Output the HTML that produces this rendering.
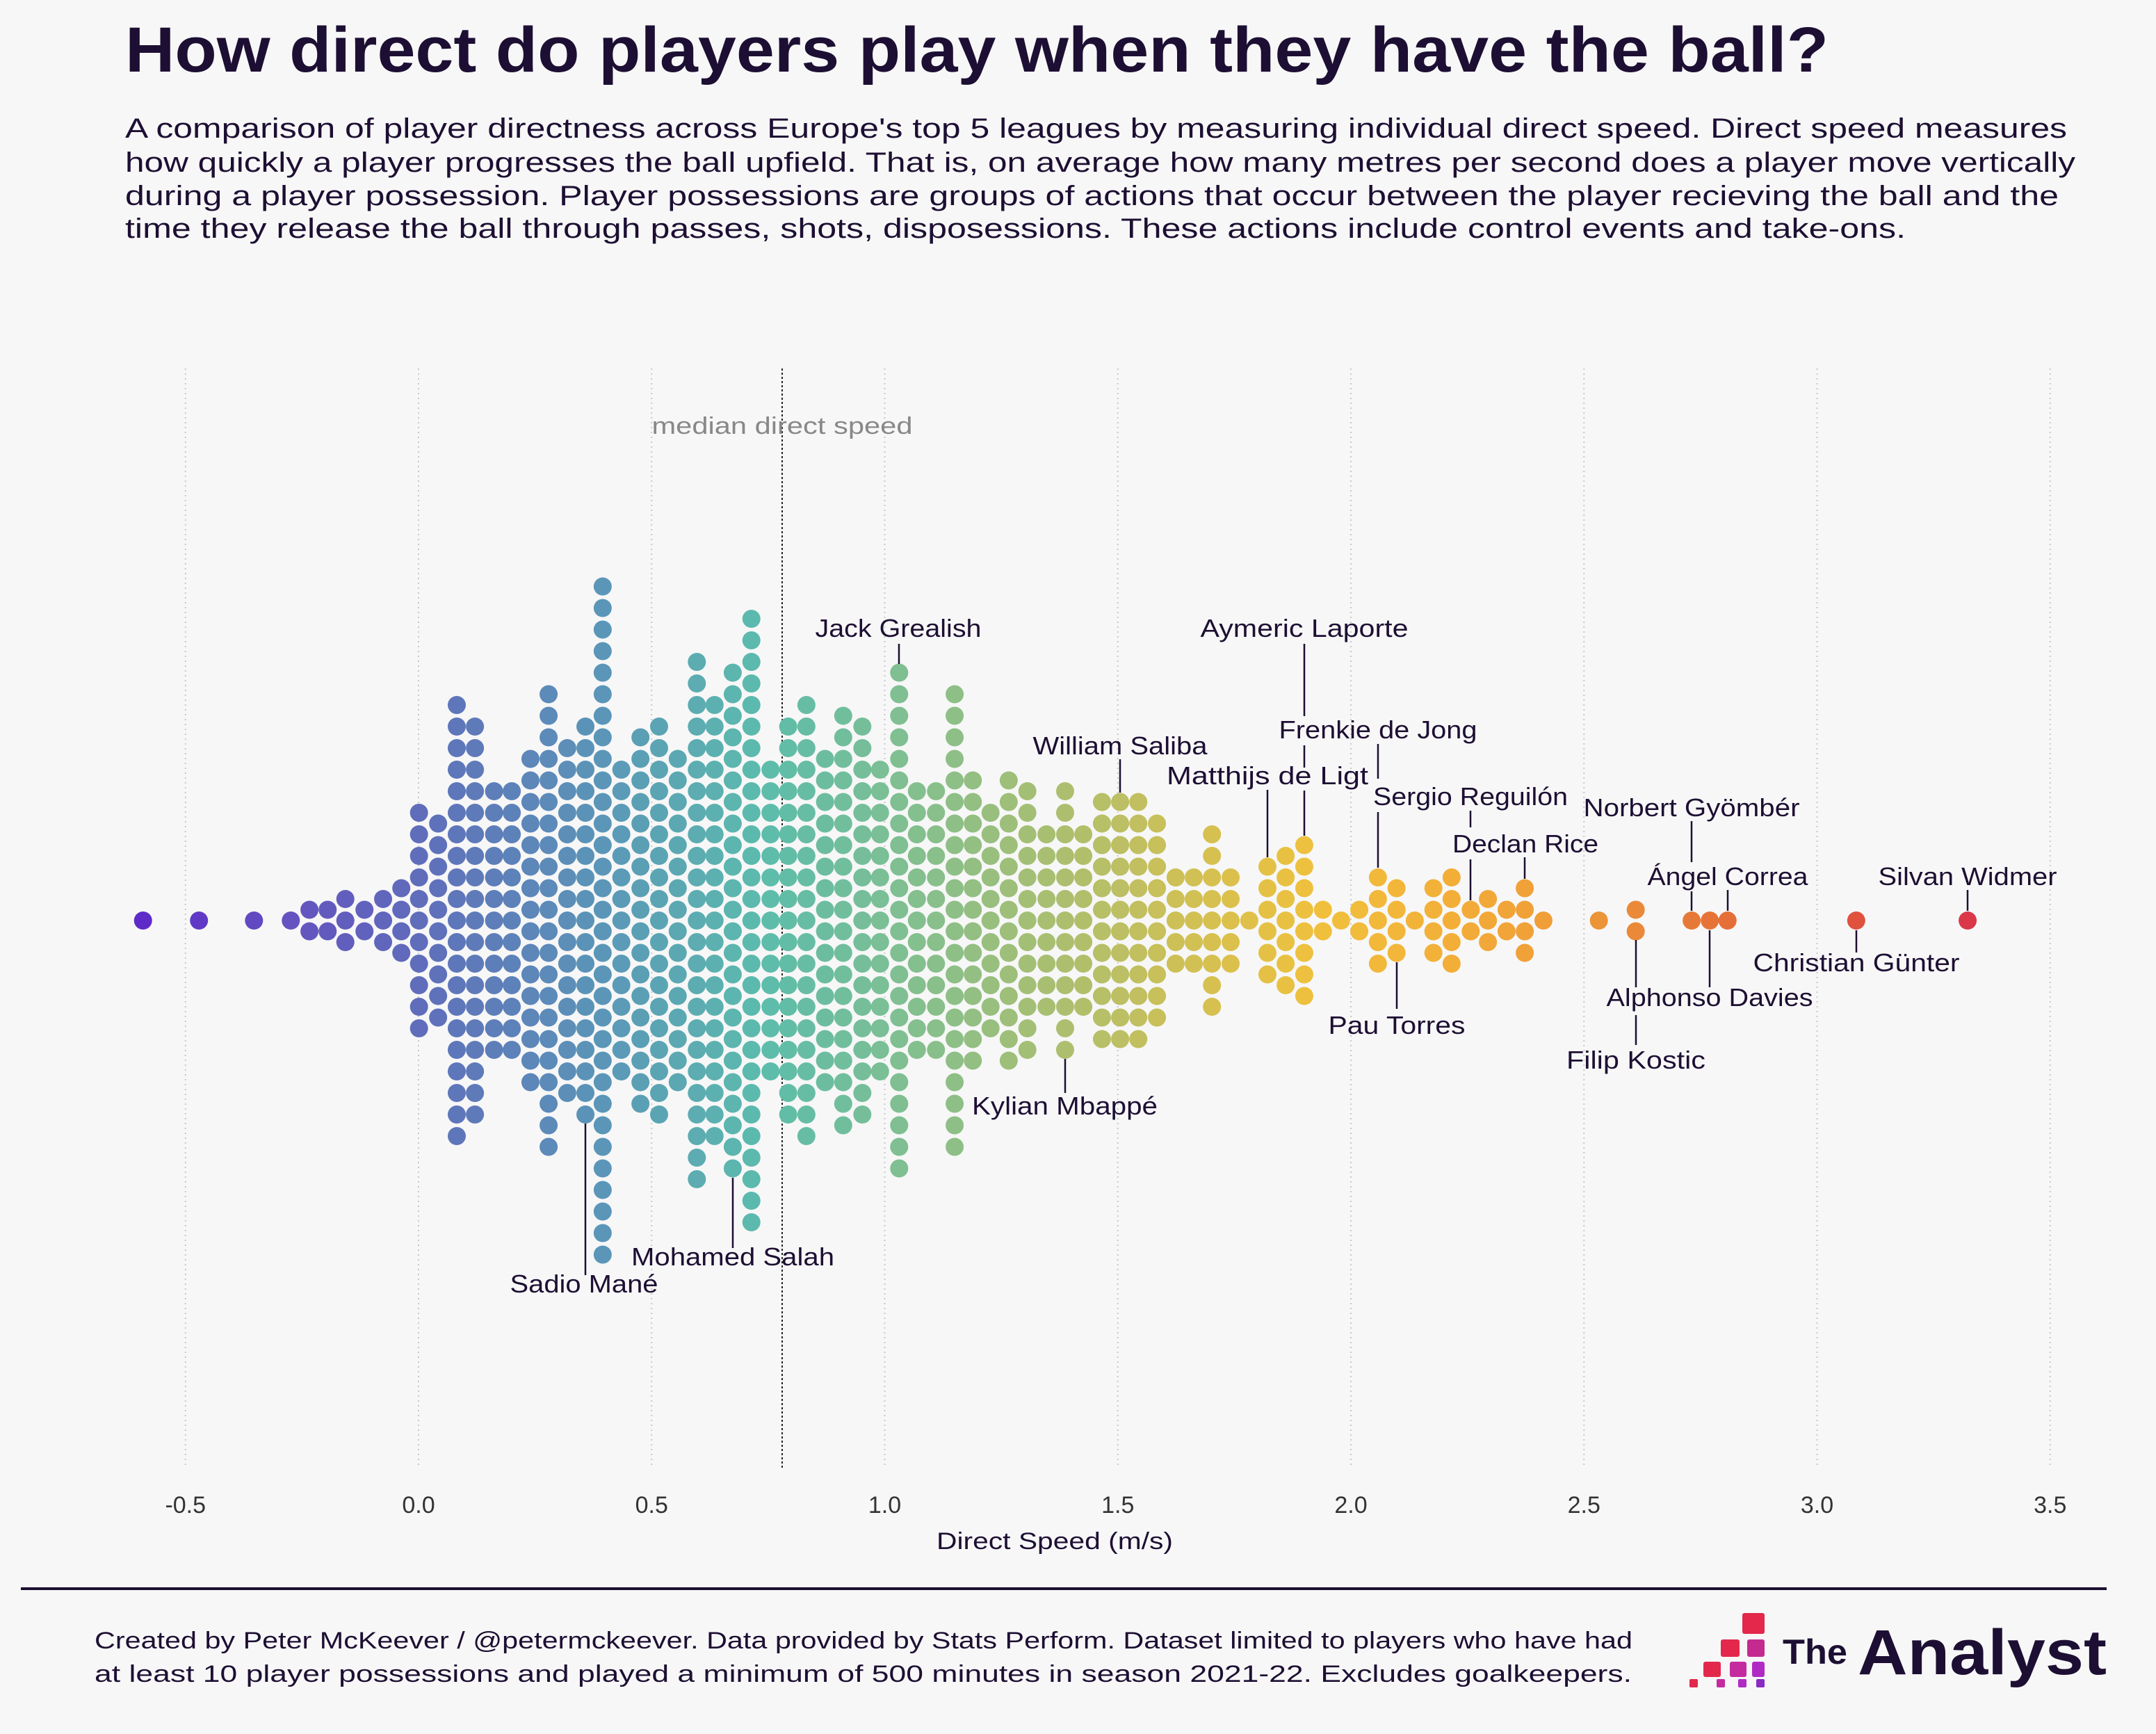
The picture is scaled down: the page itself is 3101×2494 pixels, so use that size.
<!DOCTYPE html>
<html><head><meta charset="utf-8">
<style>
html,body{margin:0;padding:0;background:#f7f7f7;}
svg{display:block;}
text{font-family:"Liberation Sans",sans-serif;fill:#1d0f33;}
</style></head>
<body>
<svg id="chart" width="3101" height="2494" viewBox="0 0 3101 2494" xmlns="http://www.w3.org/2000/svg">
<rect x="0" y="0" width="3101" height="2494" fill="#f7f7f7"/>
<text x="180" y="103" font-size="92" font-weight="bold" textLength="2450" lengthAdjust="spacingAndGlyphs">How direct do players play when they have the ball?</text>
<g font-size="40">
<text x="180" y="198" textLength="2793" lengthAdjust="spacingAndGlyphs">A comparison of player directness across Europe's top 5 leagues by measuring individual direct speed. Direct speed measures</text>
<text x="180" y="247" textLength="2805" lengthAdjust="spacingAndGlyphs">how quickly a player progresses the ball upfield. That is, on average how many metres per second does a player move vertically</text>
<text x="180" y="295" textLength="2781" lengthAdjust="spacingAndGlyphs">during a player possession. Player possessions are groups of actions that occur between the player recieving the ball and the</text>
<text x="180" y="342" textLength="2561" lengthAdjust="spacingAndGlyphs">time they release the ball through passes, shots, disposessions. These actions include control events and take-ons.</text>
</g>
<g id="grid"></g>
<g id="ticks"></g>
<text x="1517" y="2228" font-size="34" text-anchor="middle" textLength="340" lengthAdjust="spacingAndGlyphs">Direct Speed (m/s)</text>
<g id="median"></g>
<g id="dots"></g>
<g id="annots" font-size="36" stroke-width="2.5"></g>
<line x1="30" y1="2285" x2="3030" y2="2285" stroke="#1d0f33" stroke-width="4"/>
<g font-size="34">
<text x="136" y="2371" textLength="2212" lengthAdjust="spacingAndGlyphs">Created by Peter McKeever / @petermckeever. Data provided by Stats Perform. Dataset limited to players who have had</text>
<text x="136" y="2419" textLength="2211" lengthAdjust="spacingAndGlyphs">at least 10 player possessions and played a minimum of 500 minutes in season 2021-22. Excludes goalkeepers.</text>
</g>
<g>
<rect x="2506" y="2320" width="32" height="30" rx="3" fill="#e3284c"/>
<rect x="2475" y="2358" width="27" height="25" rx="3" fill="#e3284c"/>
<rect x="2513" y="2358" width="25" height="25" rx="3" fill="#c42b8f"/>
<rect x="2450" y="2390" width="25" height="22" rx="3" fill="#e3284c"/>
<rect x="2488" y="2390" width="24" height="22" rx="3" fill="#c42b9f"/>
<rect x="2520" y="2390" width="18" height="22" rx="3" fill="#b02bc4"/>
<rect x="2430" y="2415" width="12" height="12" rx="2" fill="#e3284c"/>
<rect x="2469" y="2415" width="12" height="12" rx="2" fill="#c42b9f"/>
<rect x="2500" y="2415" width="12" height="12" rx="2" fill="#b02bc4"/>
<rect x="2526" y="2415" width="12" height="12" rx="2" fill="#8a2bc4"/>
<text x="2564" y="2393" font-size="50" font-weight="bold" textLength="93" lengthAdjust="spacingAndGlyphs">The</text>
<text x="2672" y="2408" font-size="92" font-weight="bold" textLength="358" lengthAdjust="spacingAndGlyphs">Analyst</text>
</g>
</svg>
<script>
// ---- data ----
const colSpeed = [-0.591,-0.471,-0.353,-0.274,-0.234,-0.195,-0.157,-0.116,-0.076,-0.037,0.001,0.042,0.082,0.121,0.162,0.200,0.240,0.279,0.319,0.358,0.395,0.435,0.476,0.516,0.556,0.597,0.635,0.674,0.714,0.755,0.793,0.832,0.872,0.911,0.952,0.990,1.031,1.069,1.110,1.150,1.189,1.227,1.266,1.306,1.347,1.387,1.426,1.466,1.505,1.544,1.584,1.624,1.663,1.702,1.742,1.782,1.821,1.860,1.900,1.940,1.979,2.018,2.058,2.098,2.137,2.177,2.216,2.257,2.294,2.334,2.373,2.413,2.532,2.611,2.731,2.770,2.808,3.084,3.323];
const colMid   = [1,1,1,1,0,0,1,0,1,0,1,0,1,1,1,1,0,0,1,1,0,1,0,1,0,1,1,0,1,1,1,1,0,0,1,1,0,1,1,0,0,1,0,1,1,1,1,0,0,0,0,1,1,1,1,1,0,1,0,0,1,0,1,0,1,0,1,0,1,0,0,1,1,0,1,1,1,1,1];
const colUp    = [0,0,0,0,1,1,1,1,1,2,5,5,10,9,6,6,8,11,8,9,16,7,9,9,8,12,10,12,14,7,9,10,8,10,9,7,12,6,6,11,7,5,7,6,4,6,4,6,6,6,5,2,2,4,2,0,3,3,4,1,0,1,2,2,0,2,2,1,1,1,2,0,0,1,0,0,0,0,0];
const colDown  = [0,0,0,0,1,1,1,1,1,2,5,5,10,9,6,6,8,11,8,9,16,7,9,9,8,12,10,12,14,7,9,10,8,10,9,7,12,6,6,11,7,5,7,6,4,6,4,6,6,6,5,2,2,4,2,0,3,3,4,1,0,1,2,2,0,2,2,1,1,1,2,0,0,1,0,0,0,0,0];
const tickValues = [-0.5,0,0.5,1,1.5,2,2.5,3,3.5];
const tickLabels = ["-0.5","0.0","0.5","1.0","1.5","2.0","2.5","3.0","3.5"];
const medianSpeed = 0.78;

// ---- scales ----
const X0 = 602, PXU = 670.5, CY = 1324, STEP = 31, R = 13;
function xScale(v){ return X0 + v*PXU; }
function yScale(k){ return CY - k*STEP; }
const NS = "http://www.w3.org/2000/svg";
function mk(tag, attrs, parent){ const e=document.createElementNS(NS,tag); for(const k in attrs) e.setAttribute(k,attrs[k]); parent.appendChild(e); return e; }

const stops = [[-0.6,[94,42,201]],[-0.27,[100,83,192]],[0,[95,109,186]],[0.4,[91,151,184]],[0.74,[92,188,172]],[1.04,[128,191,145]],[1.41,[176,191,108]],[1.71,[215,192,79]],[1.93,[240,193,60]],[2.23,[243,173,56]],[2.53,[236,148,56]],[2.8,[229,112,56]],[3.08,[224,82,62]],[3.35,[217,52,74]]];
function colorAt(v){
  if(v<=stops[0][0]) return 'rgb('+stops[0][1]+')';
  for(let i=1;i<stops.length;i++){ if(v<=stops[i][0]){ const a=stops[i-1],b=stops[i],t=(v-a[0])/(b[0]-a[0]); return 'rgb('+a[1].map((c,j)=>Math.round(c+(b[1][j]-c)*t)).join(',')+')'; } }
  return 'rgb('+stops[stops.length-1][1]+')';
}

// grid + ticks
const grid=document.getElementById('grid'), ticks=document.getElementById('ticks');
tickValues.forEach((v,i)=>{
  const gl=mk('line',{x1:xScale(v),x2:xScale(v),y1:530,y2:2112,stroke:'#c8c8c8','stroke-width':2,'stroke-dasharray':'2 5'},grid);
  
  
  const t=mk('text',{x:xScale(v),y:2176,'font-size':34,'text-anchor':'middle',style:'fill:#333'},ticks);
  t.textContent=tickLabels[i];
  
  
});
// median
const med=document.getElementById('median');
const ml=mk('line',{x1:xScale(medianSpeed),x2:xScale(medianSpeed),y1:530,y2:2112,stroke:'#222','stroke-width':2,'stroke-dasharray':'3 3'},med);


const mt=mk('text',{x:xScale(medianSpeed),y:624,'font-size':34,'text-anchor':'middle',textLength:375,lengthAdjust:'spacingAndGlyphs',style:'fill:#888'},med);
mt.textContent='median direct speed';



// dots
const dots=document.getElementById('dots');
colSpeed.forEach((v,i)=>{
  const cx=xScale(v), fill=colorAt(v);
  const ks=[];
  if(colMid[i]) ks.push(0);
  const off = colMid[i] ? 0 : 0.5;
  for(let k=1;k<=colUp[i];k++) ks.push(k - off);
  for(let k=1;k<=colDown[i];k++) ks.push(-(k - off));
  ks.forEach(k=>{
    const c=mk('circle',{cx:cx,cy:yScale(k),r:R,fill:fill},dots);
    
    
  });
});

// annotations: [text, x, y, anchor, width, segments]
const ann=document.getElementById('annots');
const labels=[
 ["Jack Grealish",1292,916,"middle",239,[[1293,926,1293,955]]],
 ["Aymeric Laporte",1876,916,"middle",299,[[1876,926,1876,1030],[1876,1072,1876,1104],[1876,1137,1876,1202]]],
 ["Frenkie de Jong",1982,1062,"middle",285,[[1982,1070,1982,1120],[1982,1168,1982,1248]]],
 ["Matthijs de Ligt",1968,1128,"end",290,[[1823,1136,1823,1233]]],
 ["William Saliba",1611,1085,"middle",251,[[1611,1092,1611,1140]]],
 ["Kylian Mbappé",1398,1603,"start",267,[[1532,1523,1532,1572]]],
 ["Sergio Reguilón",2115,1158,"middle",280,[[2115,1166,2115,1190],[2115,1236,2115,1295]]],
 ["Declan Rice",2194,1226,"middle",210,[[2193,1233,2193,1264]]],
 ["Norbert Gyömbér",2433,1174,"middle",311,[[2433,1181,2433,1240],[2433,1282,2433,1310]]],
 ["Ángel Correa",2485,1273,"middle",231,[[2485,1280,2485,1310]]],
 ["Silvan Widmer",2830,1273,"middle",257,[[2830,1280,2830,1310]]],
 ["Christian Günter",2670,1397,"middle",297,[[2670,1338,2670,1370]]],
 ["Alphonso Davies",2459,1447,"middle",297,[[2459,1338,2459,1420]]],
 ["Filip Kostic",2353,1537,"middle",200,[[2353,1352,2353,1420],[2353,1460,2353,1503]]],
 ["Pau Torres",2009,1487,"middle",197,[[2009,1384,2009,1451]]],
 ["Mohamed Salah",1054,1820,"middle",292,[[1054,1694,1054,1795]]],
 ["Sadio Mané",840,1859,"middle",213,[[842,1616,842,1834]]]
];
labels.forEach(l=>{
  l[5].forEach(s=>{
    const ln=mk('line',{x1:s[0],y1:s[1],x2:s[2],y2:s[3],stroke:'#1d0f33','stroke-width':2.5},ann);
    
    
  });
  const t=mk('text',{x:l[1],y:l[2],'text-anchor':l[3],'font-size':36,textLength:l[4],lengthAdjust:'spacingAndGlyphs'},ann);
  t.textContent=l[0];
  
  
});
</script>
</body></html>
